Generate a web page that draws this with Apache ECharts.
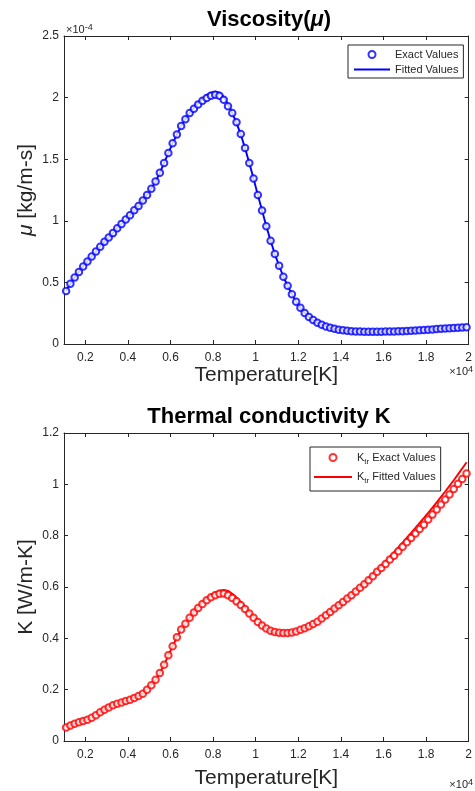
<!DOCTYPE html>
<html><head><meta charset="utf-8">
<script src="https://cdn.jsdelivr.net/npm/echarts@6/dist/echarts.min.js"></script>
<style>html,body{margin:0;padding:0;background:#fff}#c{width:475px;height:791px}</style>
</head><body><div id="c"></div>
<script>
// Temperature samples [K]
const temperatureK = [
  1100,1300,1500,1700,1900,2100,2300,2500,2700,2900,
  3100,3300,3500,3700,3900,4100,4300,4500,4700,4900,
  5100,5300,5500,5700,5900,6100,6300,6500,6700,6900,
  7100,7300,7500,7700,7900,8100,8300,8500,8700,8900,
  9100,9300,9500,9700,9900,10100,10300,10500,10700,10900,
  11100,11300,11500,11700,11900,12100,12300,12500,12700,12900,
  13100,13300,13500,13700,13900,14100,14300,14500,14700,14900,
  15100,15300,15500,15700,15900,16100,16300,16500,16700,16900,
  17100,17300,17500,17700,17900,18100,18300,18500,18700,18900,
  19100,19300,19500,19700,19900
];
// Viscosity, units of 1e-4 kg/m-s
const viscosityExact = [
  0.43,0.49,0.54,0.585,0.63,0.67,0.71,0.75,0.79,0.83,
  0.865,0.90,0.94,0.975,1.01,1.045,1.085,1.12,1.165,1.21,
  1.26,1.32,1.39,1.47,1.55,1.63,1.70,1.77,1.825,1.875,
  1.91,1.945,1.975,1.997,2.015,2.023,2.015,1.983,1.93,1.875,
  1.80,1.705,1.59,1.47,1.344,1.21,1.084,0.955,0.838,0.73,
  0.635,0.546,0.473,0.403,0.343,0.295,0.252,0.219,0.195,0.173,
  0.157,0.143,0.132,0.124,0.116,0.111,0.107,0.104,0.102,0.101,
  0.100,0.100,0.100,0.100,0.100,0.101,0.101,0.102,0.103,0.104,
  0.106,0.108,0.110,0.112,0.114,0.116,0.118,0.121,0.123,0.125,
  0.127,0.129,0.131,0.133,0.135
];
const viscosityFitted = [
  0.43,0.49,0.54,0.585,0.63,0.67,0.71,0.75,0.79,0.83,
  0.865,0.90,0.94,0.975,1.01,1.045,1.085,1.12,1.165,1.21,
  1.26,1.32,1.39,1.47,1.55,1.63,1.70,1.77,1.825,1.875,
  1.915,1.955,1.99,2.02,2.04,2.048,2.04,2.005,1.945,1.875,
  1.795,1.70,1.59,1.47,1.344,1.21,1.084,0.955,0.838,0.73,
  0.635,0.546,0.473,0.403,0.343,0.295,0.252,0.219,0.195,0.173,
  0.157,0.143,0.132,0.124,0.116,0.111,0.107,0.104,0.102,0.101,
  0.100,0.100,0.100,0.100,0.100,0.101,0.101,0.102,0.103,0.104,
  0.106,0.108,0.110,0.112,0.114,0.116,0.118,0.121,0.123,0.125,
  0.127,0.129,0.131,0.133,0.135
];
// Thermal conductivity K_tr [W/m-K]
const conductivityExact = [
  0.053,0.06,0.067,0.073,0.078,0.083,0.091,0.10,0.112,0.122,
  0.131,0.139,0.145,0.15,0.156,0.161,0.168,0.175,0.184,0.20,
  0.217,0.239,0.265,0.297,0.334,0.369,0.404,0.434,0.457,0.48,
  0.501,0.518,0.534,0.548,0.56,0.568,0.574,0.575,0.568,0.557,
  0.544,0.53,0.514,0.497,0.48,0.464,0.45,0.438,0.43,0.425,
  0.422,0.421,0.421,0.423,0.427,0.433,0.439,0.447,0.456,0.465,
  0.477,0.49,0.503,0.516,0.529,0.542,0.555,0.568,0.582,0.597,
  0.611,0.626,0.642,0.659,0.674,0.69,0.707,0.722,0.739,0.757,
  0.774,0.791,0.808,0.826,0.843,0.863,0.882,0.902,0.921,0.941,
  0.960,0.982,1.002,1.021,1.042
];
const conductivityFitted = [
  0.053,0.06,0.067,0.073,0.078,0.083,0.091,0.10,0.112,0.122,
  0.131,0.139,0.145,0.15,0.156,0.161,0.168,0.175,0.184,0.20,
  0.217,0.239,0.265,0.297,0.334,0.369,0.404,0.434,0.457,0.48,
  0.503,0.522,0.54,0.556,0.569,0.579,0.586,0.589,0.585,0.574,
  0.559,0.541,0.522,0.502,0.484,0.466,0.451,0.438,0.428,0.421,
  0.418,0.417,0.418,0.421,0.426,0.432,0.439,0.447,0.456,0.466,
  0.477,0.49,0.503,0.516,0.529,0.542,0.556,0.570,0.585,0.600,
  0.616,0.632,0.649,0.666,0.683,0.700,0.718,0.736,0.754,0.773,
  0.792,0.811,0.830,0.850,0.869,0.889,0.909,0.930,0.951,0.972,
  0.994,1.016,1.039,1.062,1.086
];
const xTickValues = [2000,4000,6000,8000,10000,12000,14000,16000,18000,20000];

const FONT = '"Liberation Sans", Arial, Helvetica, sans-serif';
const AX = '#262626';
const BLUE = '#0000ff';
const RED = '#ff0000';
const HIDDEN = { color: 'rgba(0,0,0,0)', borderColor: 'rgba(0,0,0,0)', borderWidth: 0, opacity: 0 };

function zip(xs, ys) { return xs.map((x, i) => [x, ys[i]]); }

function xAxisPair(gi, nameGap) {
  return [{
    type: 'value', gridIndex: gi, position: 'bottom', min: 1000, max: 20000,
    axisLine: { show: true, onZero: false, lineStyle: { color: AX, width: 1 } },
    axisTick: { show: true, inside: true, length: 4, customValues: xTickValues, lineStyle: { color: AX } },
    axisLabel: { customValues: xTickValues, color: AX, fontSize: 12, fontFamily: FONT, margin: 8,
      formatter: v => String(parseFloat((v / 10000).toFixed(2))) },
    splitLine: { show: false },
    name: 'Temperature[K]', nameLocation: 'middle', nameGap: nameGap,
    nameTextStyle: { fontSize: 21, color: AX, fontFamily: FONT }
  }, {
    type: 'value', gridIndex: gi, position: 'top', min: 1000, max: 20000,
    axisLine: { show: true, onZero: false, lineStyle: { color: AX, width: 1 } },
    axisTick: { show: true, inside: true, length: 4, customValues: xTickValues, lineStyle: { color: AX } },
    axisLabel: { show: false, customValues: xTickValues },
    splitLine: { show: false }
  }];
}
function yAxisPair(gi, max, interval, name, rich) {
  return [{
    type: 'value', gridIndex: gi, position: 'left', min: 0, max: max, interval: interval,
    axisLine: { show: true, onZero: false, lineStyle: { color: AX, width: 1 } },
    axisTick: { show: true, inside: true, length: 4, lineStyle: { color: AX } },
    axisLabel: { color: AX, fontSize: 12, fontFamily: FONT, margin: 5, formatter: v => String(parseFloat(v.toFixed(2))) },
    splitLine: { show: false },
    name: name, nameLocation: 'middle', nameGap: 27, nameMoveOverlap: false,
    nameTextStyle: { fontSize: 21, color: AX, fontFamily: FONT, rich: rich }
  }, {
    type: 'value', gridIndex: gi, position: 'right', min: 0, max: max, interval: interval,
    axisLine: { show: true, onZero: false, lineStyle: { color: AX, width: 1 } },
    axisTick: { show: true, inside: true, length: 4, lineStyle: { color: AX } },
    axisLabel: { show: false },
    splitLine: { show: false }
  }];
}

const xA = xAxisPair(0, 18).concat(xAxisPair(1, 27));
const yA = yAxisPair(0, 2.5, 0.5, '{i|μ} [kg/m-s]', { i: { fontStyle: 'italic', fontSize: 21, fontFamily: FONT, color: AX } })
  .concat(yAxisPair(1, 1.2, 0.2, 'K [W/m-K]', {}));

const subRich = {
  k: { fontSize: 11, fontFamily: FONT, color: AX, lineHeight: 16 },
  s: { fontSize: 8, fontFamily: FONT, color: AX, lineHeight: 4, verticalAlign: 'bottom' }
};

const option = {
  backgroundColor: '#ffffff',
  animation: false,
  grid: [
    { left: 64, top: 36, width: 410, height: 308, containLabel: false },
    { left: 64, top: 433, width: 410, height: 308, containLabel: false }
  ],
  xAxis: xA,
  yAxis: yA,
  legend: [{
    data: ['Exact Values', { name: 'Fitted Values', itemStyle: HIDDEN }],
    orient: 'vertical', left: 348, top: 45,
    padding: [3, 5, 2, 5], itemWidth: 36, itemHeight: 7, itemGap: 2,
    borderColor: AX, borderWidth: 1, backgroundColor: '#fff',
    textStyle: { fontSize: 11, fontFamily: FONT, color: AX, lineHeight: 13 }
  }, {
    data: ['K_tr Exact Values', { name: 'K_tr Fitted Values', itemStyle: HIDDEN }],
    orient: 'vertical', left: 310, top: 447,
    padding: [5, 5, 6, 3], itemWidth: 38, itemHeight: 7, itemGap: 6,
    borderColor: AX, borderWidth: 1, backgroundColor: '#fff',
    formatter: n => '{k|K}{s|tr}{k| ' + n.replace('K_tr ', '') + '}',
    textStyle: { fontSize: 11, fontFamily: FONT, color: AX, rich: subRich }
  }],
  graphic: [
    { type: 'text', x: 269, y: 20, style: {
        text: '{b|Viscosity(}{i|μ}{b|)}', align: 'center', verticalAlign: 'middle',
        rich: { b: { fontSize: 22, fontWeight: 'bold', fontFamily: FONT, fill: '#000' },
                i: { fontSize: 22, fontWeight: 'bold', fontStyle: 'italic', fontFamily: FONT, fill: '#000' } } } },
    { type: 'text', x: 269, y: 417, style: {
        text: 'Thermal conductivity K', align: 'center', verticalAlign: 'middle',
        font: 'bold 22px ' + FONT, fill: '#000' } },
    { type: 'text', x: 66, y: 30, style: {
        text: '{a|×10}{p|-4}', align: 'left', verticalAlign: 'middle',
        rich: { a: { fontSize: 11, fontFamily: FONT, fill: AX, lineHeight: 14 },
                p: { fontSize: 9, fontFamily: FONT, fill: AX, lineHeight: 9, verticalAlign: 'top' } } } },
    { type: 'text', x: 473, y: 372, style: {
        text: '{a|×10}{p|4}', align: 'right', verticalAlign: 'middle',
        rich: { a: { fontSize: 11, fontFamily: FONT, fill: AX, lineHeight: 14 },
                p: { fontSize: 9, fontFamily: FONT, fill: AX, lineHeight: 9, verticalAlign: 'top' } } } },
    { type: 'text', x: 473, y: 785, style: {
        text: '{a|×10}{p|4}', align: 'right', verticalAlign: 'middle',
        rich: { a: { fontSize: 11, fontFamily: FONT, fill: AX, lineHeight: 14 },
                p: { fontSize: 9, fontFamily: FONT, fill: AX, lineHeight: 9, verticalAlign: 'top' } } } }
  ],
  series: [
    { name: 'Fitted Values', type: 'line', xAxisIndex: 0, yAxisIndex: 0,
      data: zip(temperatureK, viscosityFitted), symbol: 'none', z: 2,
      lineStyle: { color: BLUE, width: 1.9 }, itemStyle: { color: BLUE } },
    { name: 'Exact Values', type: 'scatter', xAxisIndex: 0, yAxisIndex: 0,
      data: zip(temperatureK, viscosityExact), symbol: 'emptyCircle', symbolSize: 6.5, z: 3,
      itemStyle: { color: BLUE, borderColor: BLUE, borderWidth: 1.8 } },
    { name: 'K_tr Fitted Values', type: 'line', xAxisIndex: 2, yAxisIndex: 2,
      data: zip(temperatureK, conductivityFitted), symbol: 'none', z: 2,
      lineStyle: { color: RED, width: 1.9 }, itemStyle: { color: RED } },
    { name: 'K_tr Exact Values', type: 'scatter', xAxisIndex: 2, yAxisIndex: 2,
      data: zip(temperatureK, conductivityExact), symbol: 'emptyCircle', symbolSize: 6.5, z: 3,
      itemStyle: { color: RED, borderColor: RED, borderWidth: 1.8 } }
  ]
};

const chart = echarts.init(document.getElementById('c'), null, { renderer: 'canvas', width: 475, height: 791 });
chart.setOption(option);
</script>
</body></html>
